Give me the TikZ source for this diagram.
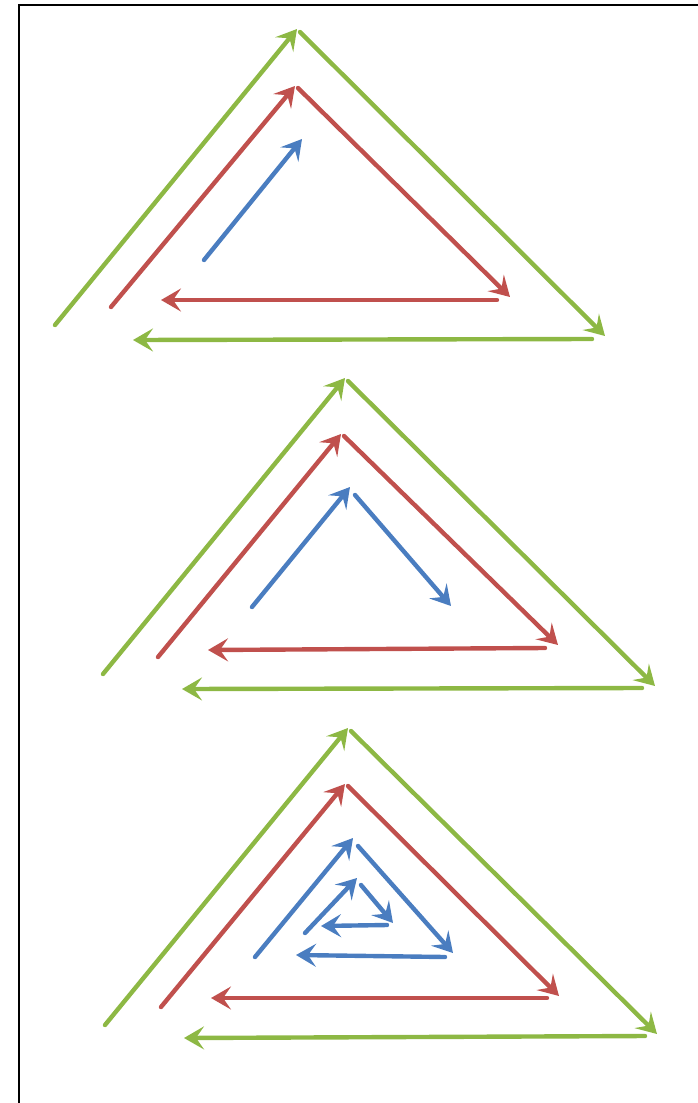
\documentclass[tikz,border=0pt]{standalone}
\usetikzlibrary{arrows.meta}
\definecolor{leafgreen}{HTML}{8DB844}
\definecolor{brickred}{HTML}{C0504D}
\definecolor{steelblue}{HTML}{4A7DC0}
\tikzset{
  vec/.style={line width=4.4pt, line cap=round,
    -{Stealth[length=20pt,width=23pt,inset=8pt]}},
  gvec/.style={vec, leafgreen},
  rvec/.style={vec, brickred},
  bvec/.style={vec, steelblue},
  frame/.style={line width=2.2pt, black}
}
\begin{document}
\begin{tikzpicture}[x=1pt,y=-1pt]
\useasboundingbox (0,0) rectangle (697,1103);
\draw[frame] (19,1110) -- (19,5) -- (705,5);

% ---- first triangle ----
\coordinate (g1a) at (55,325);   \coordinate (g1b) at (297,29);
\coordinate (g1c) at (300,32);   \coordinate (g1d) at (605,336);
\coordinate (g1e) at (592,339);  \coordinate (g1f) at (133,340);
\coordinate (r1a) at (111,307);  \coordinate (r1b) at (295,86);
\coordinate (r1c) at (298,88);   \coordinate (r1d) at (510,297);
\coordinate (r1e) at (497,300);  \coordinate (r1f) at (161,300);
\coordinate (b1a) at (204,260);  \coordinate (b1b) at (302,139);
\draw[gvec] (g1a) -- (g1b);
\draw[gvec] (g1c) -- (g1d);
\draw[gvec] (g1e) -- (g1f);
\draw[rvec] (r1a) -- (r1b);
\draw[rvec] (r1c) -- (r1d);
\draw[rvec] (r1e) -- (r1f);
\draw[bvec] (b1a) -- (b1b);

% ---- second triangle ----
\coordinate (g2a) at (103,674);  \coordinate (g2b) at (345,378);
\coordinate (g2c) at (348,381);  \coordinate (g2d) at (655,686);
\coordinate (g2e) at (642,688);  \coordinate (g2f) at (182,689);
\coordinate (r2a) at (158,657);  \coordinate (r2b) at (341,434);
\coordinate (r2c) at (344,436);  \coordinate (r2d) at (558,645);
\coordinate (r2e) at (545,648);  \coordinate (r2f) at (208,650);
\coordinate (b2a) at (252,607);  \coordinate (b2b) at (350,487);
\coordinate (b2c) at (355,495);  \coordinate (b2d) at (451,606);
\draw[gvec] (g2a) -- (g2b);
\draw[gvec] (g2c) -- (g2d);
\draw[gvec] (g2e) -- (g2f);
\draw[rvec] (r2a) -- (r2b);
\draw[rvec] (r2c) -- (r2d);
\draw[rvec] (r2e) -- (r2f);
\draw[bvec] (b2a) -- (b2b);
\draw[bvec] (b2c) -- (b2d);

% ---- third triangle ----
\coordinate (g3a) at (105,1025); \coordinate (g3b) at (348,728);
\coordinate (g3c) at (351,731);  \coordinate (g3d) at (657,1034);
\coordinate (g3e) at (645,1036); \coordinate (g3f) at (184,1038);
\coordinate (r3a) at (161,1007); \coordinate (r3b) at (345,784);
\coordinate (r3c) at (348,786);  \coordinate (r3d) at (559,996);
\coordinate (r3e) at (547,998);  \coordinate (r3f) at (211,998);
\coordinate (b3a) at (255,957);  \coordinate (b3b) at (353,838);
\coordinate (b3c) at (358,846);  \coordinate (b3d) at (453,953);
\coordinate (b3e) at (445,957);  \coordinate (b3f) at (296,955);
\coordinate (b3g) at (305,933);  \coordinate (b3h) at (357,878);
\coordinate (b3i) at (361,885);  \coordinate (b3j) at (393,923);
\coordinate (b3k) at (387,925);  \coordinate (b3l) at (321,926);
\draw[gvec] (g3a) -- (g3b);
\draw[gvec] (g3c) -- (g3d);
\draw[gvec] (g3e) -- (g3f);
\draw[rvec] (r3a) -- (r3b);
\draw[rvec] (r3c) -- (r3d);
\draw[rvec] (r3e) -- (r3f);
\draw[bvec] (b3a) -- (b3b);
\draw[bvec] (b3c) -- (b3d);
\draw[bvec] (b3e) -- (b3f);
\draw[bvec] (b3g) -- (b3h);
\draw[bvec] (b3i) -- (b3j);
\draw[bvec] (b3k) -- (b3l);
\end{tikzpicture}
\end{document}
